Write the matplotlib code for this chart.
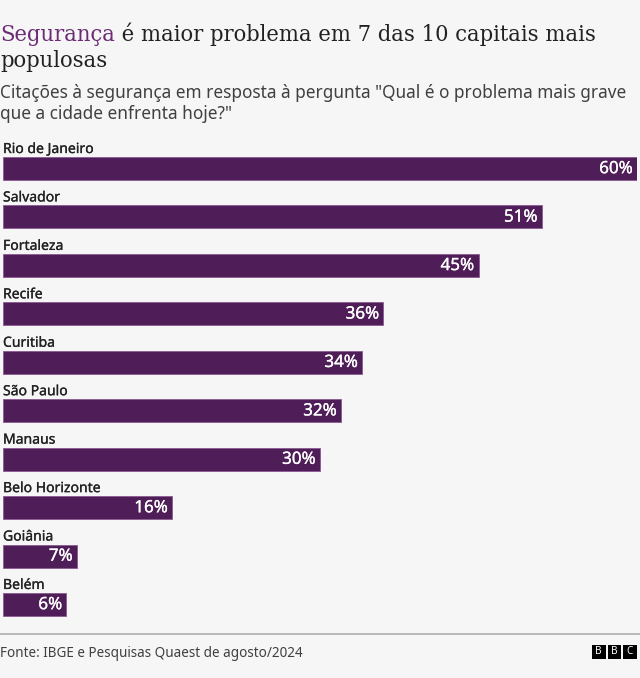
import matplotlib
matplotlib.use("Agg")
import matplotlib.pyplot as plt
from matplotlib.patches import Rectangle
import matplotlib.patheffects as pe

cities = ["Rio de Janeiro", "Salvador", "Fortaleza", "Recife", "Curitiba",
          "São Paulo", "Manaus", "Belo Horizonte", "Goiânia", "Belém"]
values = [60, 51, 45, 36, 34, 32, 30, 16, 7, 6]

title_hl = "Segurança"
title_rest = " é maior problema em 7 das 10 capitais mais"
title_line2 = "populosas"
subtitle_lines = ['Citações à segurança em resposta à pergunta "Qual é o problema mais grave',
                  'que a cidade enfrenta hoje?"']
source = "Fonte: IBGE e Pesquisas Quaest de agosto/2024"

W, H = 640, 678
DPI = 100
BG = "#f6f6f6"
BAR = "#4f1d57"
SANS = ["Noto Sans", "DejaVu Sans"]
SERIF = ["DejaVu Serif"]

def px(v):
    return v * 72 / DPI

fig = plt.figure(figsize=(W / DPI, H / DPI), dpi=DPI, facecolor=BG)

def fx(x):
    return x / W

def fy(y):
    return 1 - y / H

# Title
renderer = fig.canvas.get_renderer()
tkw = dict(fontsize=px(23.5), family=SERIF, fontstretch="condensed",
           va="baseline", ha="left")
t1 = fig.text(fx(0), fy(41), title_hl, color="#6b2c74", **tkw)
bb = t1.get_window_extent(renderer=renderer)
fig.text(bb.x1 / W, fy(41), title_rest, color="#222222", **tkw)
fig.text(fx(0), fy(67), title_line2, color="#222222", **tkw)

for k, line in enumerate(subtitle_lines):
    fig.text(fx(0), fy(98 + 21 * k), line, fontsize=px(17.2), family=SANS,
             color="#404040", va="baseline", ha="left")

# Bars axes
top, step = 144.3, 48.44
ax = fig.add_axes([fx(3), fy(top + 10 * step), (637 - 3) / W, 10 * step / H])
ax.set_facecolor("none")
ax.set_xlim(0, 60)
ax.set_ylim(9.5, -0.5)
ax.axis("off")

ax.barh(range(len(values)), values, height=0.475, color=BAR,
        edgecolor="#8a5a90", linewidth=0.6)
for i, (c, v) in enumerate(zip(cities, values)):
    ax.text(0, i - 0.32, c, fontsize=px(14), family=SANS, color="#222222",
            va="baseline", ha="left",
            path_effects=[pe.withStroke(linewidth=0.18, foreground="#222222")])
    ax.annotate(f"{v}%", xy=(v, i), xytext=(-3, -0.5), textcoords="offset points",
                fontsize=px(17), family=SANS, color="white",
                va="center", ha="right",
                path_effects=[pe.withStroke(linewidth=0.2, foreground="white")])

# Footer
fig.add_artist(plt.Line2D([0, 1], [fy(634), fy(634)], color="#b4b4b4",
                          linewidth=1.3, transform=fig.transFigure))
fig.text(fx(0), fy(657), source, fontsize=px(13.5), family=SANS,
         color="#404040", va="baseline", ha="left")

# BBC logo
for k, letter in enumerate("BBC"):
    x0 = 592 + k * 15.5
    fig.add_artist(Rectangle((fx(x0), fy(659)), 13.5 / W, 14 / H,
                             facecolor="black", edgecolor="none",
                             transform=fig.transFigure))
    fig.text(fx(x0 + 6.75), fy(652), letter, fontsize=px(10), family=SANS,
             color="white", fontweight="bold", va="center", ha="center")

fig.savefig("out.png", dpi=DPI, facecolor=BG)
